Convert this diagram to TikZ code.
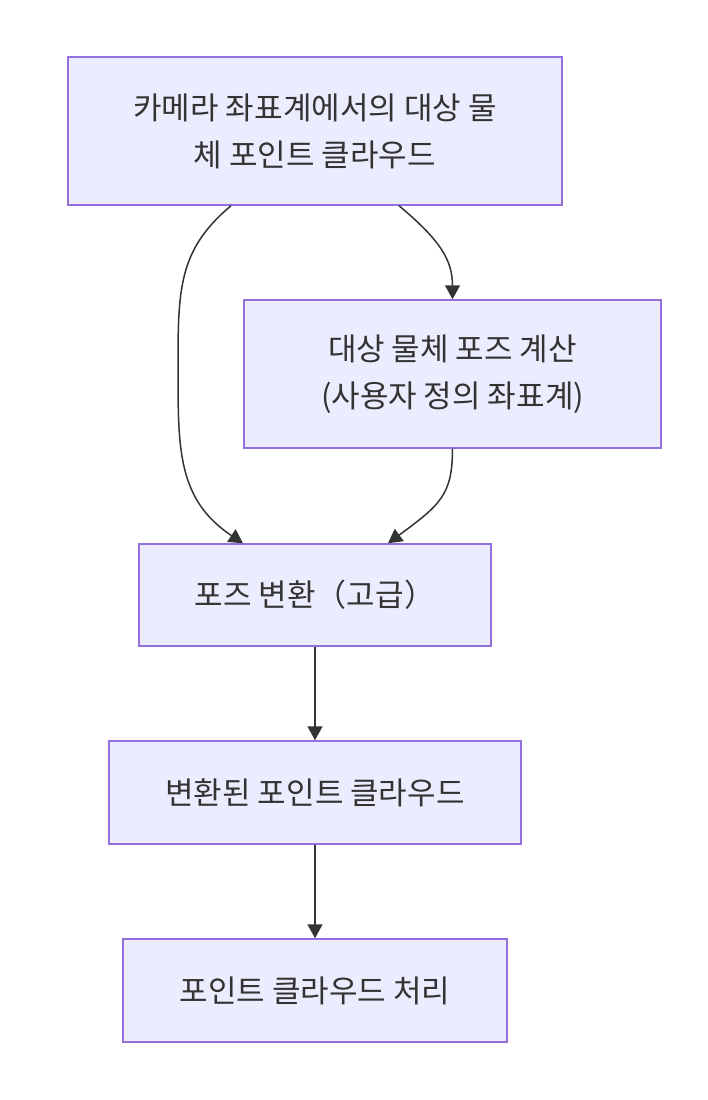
\documentclass[tikz,border=0pt]{standalone}
\usepackage{fontspec}
\setmainfont{Noto Sans CJK KR}
\usetikzlibrary{arrows.meta}
\definecolor{boxfill}{HTML}{ECECFF}
\definecolor{boxline}{HTML}{9370DB}
\definecolor{ink}{HTML}{333333}
\tikzset{
  box/.style={draw=boxline, fill=boxfill, line width=1.5pt, rectangle, inner sep=0pt,
    text=ink, align=center, font=\fontsize{31}{47}\selectfont},
  conn/.style={draw=ink, line width=1.5pt, -{Triangle[length=14pt,width=15pt]}}
}
\begin{document}
\begin{tikzpicture}[x=1pt,y=-1pt]
\useasboundingbox (0,0) rectangle (708,1100);
\node[box, minimum width=494pt, minimum height=148pt] (n1) at (315,131) {카메라 좌표계에서의 대상 물\\체 포인트 클라우드};
\node[box, minimum width=417pt, minimum height=148pt] (n2) at (452.5,374) {대상 물체 포즈 계산\\(사용자 정의 좌표계)};
\node[box, minimum width=352pt, minimum height=102pt] (n3) at (315,595) {포즈 변환（고급）};
\node[box, minimum width=412pt, minimum height=103pt] (n4) at (315,792.5) {변환된 포인트 클라우드};
\node[box, minimum width=384pt, minimum height=103pt] (n5) at (315,990.5) {포인트 클라우드 처리};
\coordinate (a1) at ([xshift=-84pt]n1.south);
\coordinate (a2) at ([xshift=84pt]n1.south);
\coordinate (b1) at ([xshift=-72pt]n3.north);
\coordinate (b2) at ([xshift=73pt]n3.north);
\draw[conn] (a1) .. controls (178,250) and (178,290) .. (178,370) .. controls (178,450) and (178,500) .. (b1);
\draw[conn] (a2) .. controls (440,240) and (452.5,260) .. (n2.north);
\draw[conn] (n2.south) .. controls (452.5,495) and (440,505) .. (b2);
\draw[conn] (n3.south) -- (n4.north);
\draw[conn] (n4.south) -- (n5.north);
\end{tikzpicture}
\end{document}
